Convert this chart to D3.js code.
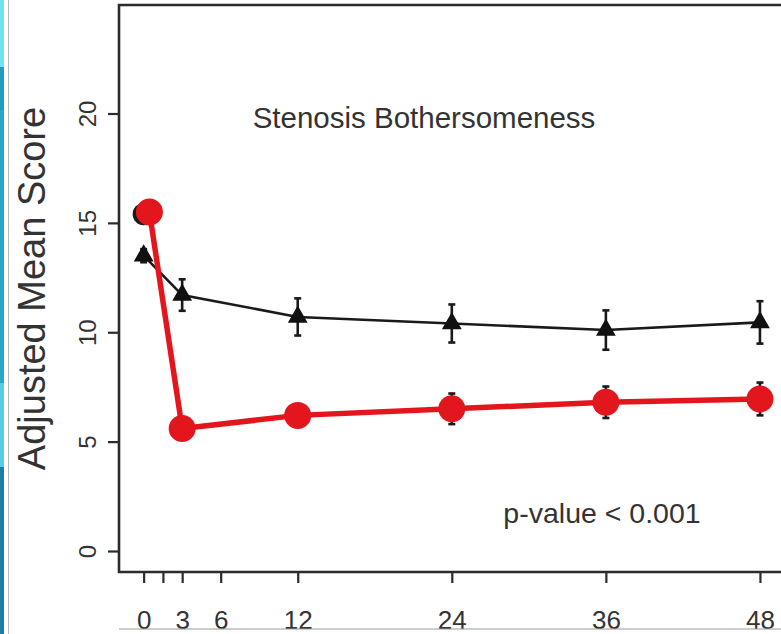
<!DOCTYPE html>
<html>
<head>
<meta charset="utf-8">
<script src="https://cdn.jsdelivr.net/npm/d3@7"></script>
<style>
  html, body { margin: 0; padding: 0; background: #fff; }
  svg { display: block; font-family: "Liberation Sans", Arial, Helvetica, sans-serif; }
</style>
</head>
<body>
<svg id="chart" width="781" height="634"></svg>
<script>
// Follow-up time in months
const months = [0, 3, 12, 24, 36, 48];
// Surgical group (red circles) — adjusted mean score and half-width of error bar
const surgeryX = [0.45, 3, 12, 24, 36, 48];
const surgeryMean = [15.5, 5.6, 6.2, 6.5, 6.8, 6.95];
const surgeryErr = [0.3, 0.45, 0.45, 0.7, 0.72, 0.75];
// Non-operative group (black triangles)
const nonopMean = [13.5, 11.7, 10.7, 10.4, 10.1, 10.45];
const nonopErr = [0.3, 0.72, 0.85, 0.87, 0.9, 0.97];
// Baseline marker of the non-operative group, partly hidden behind the red circle
const nonopBaseline = [15.4];

const xTicks = [0, 1.5, 3, 6, 12, 24, 36, 48];
const xTickLabels = ["0", "", "3", "6", "12", "24", "36", "48"];
const yTicks = [0, 5, 10, 15, 20];

const titleText = "Stenosis Bothersomeness";
const pValueText = "p-value < 0.001";
const yAxisTitle = "Adjusted Mean Score";

const W = 781, H = 634;
const plot = { left: 119, top: 5, bottom: 572, right: 784.6 };

const svg = d3.select("#chart");

// Decorative strip on the far left edge
const stripBands = [
  { y0: 0, y1: 67, c: "#6fe3f2" },
  { y0: 67, y1: 110, c: "#1f9dbf" },
  { y0: 110, y1: 383, c: "#2aa6c6" },
  { y0: 383, y1: 467, c: "#52cfe6" },
  { y0: 467, y1: 634, c: "#1d7ea3" }
];
svg.append("g").selectAll("rect").data(stripBands).join("rect")
  .attr("x", 0).attr("width", 4)
  .attr("y", d => d.y0).attr("height", d => d.y1 - d.y0)
  .attr("fill", d => d.c);
svg.append("line").attr("x1", 8.5).attr("x2", 8.5).attr("y1", 0).attr("y2", H)
  .attr("stroke", "#b8b8b8").attr("stroke-width", 1);

// Scales: R-style 4% padding around [0,48] and [0,24]
const x = d3.scaleLinear().domain([-1.92, 49.92]).range([plot.left, plot.right]);
const y = d3.scaleLinear().domain([-0.96, 24.96]).range([plot.bottom, plot.top]);

const ink = "#2b2b2b";
const g = svg.append("g");

// Y axis (ticks on the left, labels rotated)
const yAxis = d3.axisLeft(y).tickValues(yTicks).tickSize(11).tickPadding(0).tickFormat(d3.format("d"));
const yg = g.append("g").attr("transform", `translate(${plot.left},0)`).call(yAxis);
yg.select(".domain").remove();
yg.selectAll(".tick line").attr("stroke", ink).attr("stroke-width", 2.2);
yg.selectAll(".tick text")
  .attr("x", null).attr("dy", null)
  .attr("transform", "translate(-23,0) rotate(-90)")
  .attr("text-anchor", "middle")
  .attr("fill", "#333").attr("font-size", 24);

// X axis
const xAxis = d3.axisBottom(x).tickValues(xTicks).tickSize(11).tickPadding(28)
  .tickFormat((d, i) => xTickLabels[i]);
const xg = g.append("g").attr("transform", `translate(0,${plot.bottom})`).call(xAxis);
xg.select(".domain").remove();
xg.selectAll(".tick line").attr("stroke", ink).attr("stroke-width", 2.2);
xg.selectAll(".tick text").attr("fill", "#333").attr("font-size", 26).attr("dy", "0.71em");

// Plot frame
g.append("path")
  .attr("d", `M${plot.right},${plot.top}H${plot.left}V${plot.bottom}H${plot.right}`)
  .attr("fill", "none").attr("stroke", ink).attr("stroke-width", 2.6);

// Axis title
g.append("text")
  .attr("transform", `translate(45,${(plot.top + plot.bottom) / 2}) rotate(-90)`)
  .attr("text-anchor", "middle").attr("font-size", 38).attr("fill", "#333")
  .text(yAxisTitle);

// Annotations
g.append("text").attr("x", 424).attr("y", 128).attr("text-anchor", "middle")
  .attr("font-size", 29.5).attr("fill", "#333").text(titleText);
g.append("text").attr("x", 602).attr("y", 523).attr("text-anchor", "middle")
  .attr("font-size", 28.5).attr("fill", "#333").text(pValueText);

// Data
const nonop = months.map((m, i) => ({ x: m, y: nonopMean[i], e: nonopErr[i] }));
const surg = months.map((m, i) => ({ x: surgeryX[i], y: surgeryMean[i], e: surgeryErr[i] }));

const line = d3.line().x(d => x(d.x)).y(d => y(d.y));

// Non-operative baseline dot
g.append("g").selectAll("circle").data(nonopBaseline).join("circle")
  .attr("cx", x(months[0])).attr("cy", d => y(d)).attr("r", 11).attr("fill", "#1a1a1a");

// Error bars
function errorBars(data) {
  const eg = g.append("g").attr("stroke", "#1a1a1a").attr("stroke-width", 2.6);
  eg.selectAll("line.v").data(data).join("line").attr("class", "v")
    .attr("x1", d => x(d.x)).attr("x2", d => x(d.x))
    .attr("y1", d => y(d.y - d.e)).attr("y2", d => y(d.y + d.e));
  eg.selectAll("line.lo").data(data).join("line").attr("class", "lo")
    .attr("x1", d => x(d.x) - 3.5).attr("x2", d => x(d.x) + 3.5)
    .attr("y1", d => y(d.y - d.e)).attr("y2", d => y(d.y - d.e));
  eg.selectAll("line.hi").data(data).join("line").attr("class", "hi")
    .attr("x1", d => x(d.x) - 3.5).attr("x2", d => x(d.x) + 3.5)
    .attr("y1", d => y(d.y + d.e)).attr("y2", d => y(d.y + d.e));
}
errorBars(nonop);
errorBars(surg);

// Non-operative line and triangles
g.append("path").datum(nonop).attr("d", line)
  .attr("fill", "none").attr("stroke", "#1a1a1a").attr("stroke-width", 2.6);
g.append("g").selectAll("path").data(nonop).join("path")
  .attr("d", d3.symbol(d3.symbolTriangle, 170))
  .attr("transform", d => `translate(${x(d.x)},${y(d.y)})`)
  .attr("fill", "#111");

// Surgical line and circles
const red = "#e3161d";
g.append("path").datum(surg).attr("d", line)
  .attr("fill", "none").attr("stroke", red).attr("stroke-width", 5.5);
g.append("g").selectAll("circle").data(surg).join("circle")
  .attr("cx", d => x(d.x)).attr("cy", d => y(d.y)).attr("r", 13.5).attr("fill", red);

// Lower border line under the tick labels
svg.append("rect").attr("x", 9).attr("y", 629.5).attr("width", W).attr("height", H - 629.5).attr("fill", "#fff");
svg.append("line").attr("x1", plot.left).attr("x2", W).attr("y1", 629).attr("y2", 629)
  .attr("stroke", "#9a9a9a").attr("stroke-width", 1);
</script>
</body>
</html>
